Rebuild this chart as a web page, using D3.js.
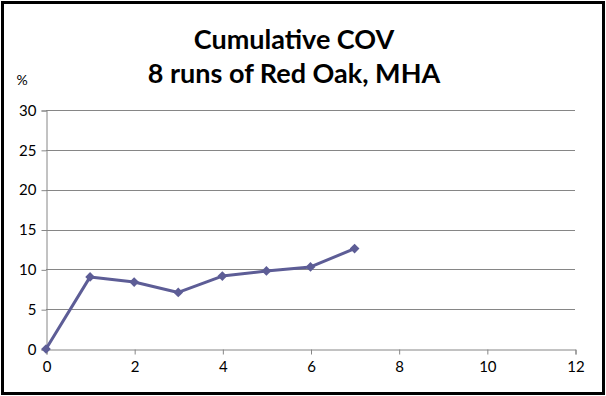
<!DOCTYPE html>
<html>
<head>
<meta charset="utf-8">
<script src="https://cdn.jsdelivr.net/npm/d3@7"></script>
<style>
  body { margin: 0; background: #fff; }
  text { font-family: Lato, "Open Sans", sans-serif; fill: #000; }
</style>
</head>
<body>
<div id="chart"></div>
<script>
(function() {
    const runs = [0, 1, 2, 3, 4, 5, 6, 7];
    const cov = [0, 9.05, 8.4, 7.1, 9.15, 9.8, 10.3, 12.6];
    const xTicks = [0, 2, 4, 6, 8, 10, 12];
    const yTicks = [0, 5, 10, 15, 20, 25, 30];
    const titleLines = ['Cumulative COV', '8 runs of Red Oak, MHA'];

    const width = 606,
          height = 396,
          margin = { top: 110, right: 31, bottom: 47, left: 46 };

    const svg = d3.select('#chart')
      .append('svg')
      .attr('width', width)
      .attr('height', height);

    svg.append('rect')
      .attr('x', 2.5).attr('y', 2.5)
      .attr('width', width - 5).attr('height', height - 5)
      .attr('fill', '#fff')
      .attr('stroke', '#000')
      .attr('stroke-width', 3);

    const x = d3.scaleLinear()
      .domain([0, 12])
      .range([margin.left, width - margin.right]);

    const y = d3.scaleLinear()
      .domain([0, 30])
      .range([height - margin.bottom, margin.top]);

    // gridlines
    svg.append('g')
      .selectAll('line')
      .data(yTicks.filter(d => d > 0))
      .enter().append('line')
        .attr('x1', x(0)).attr('x2', x(12))
        .attr('y1', d => Math.round(y(d)) + 0.5)
        .attr('y2', d => Math.round(y(d)) + 0.5)
        .attr('stroke', '#868686');

    const yAxis = svg.append('g')
      .attr('transform', `translate(${x(0) + 0.5},0.5)`)
      .call(d3.axisLeft(y).tickValues(yTicks).tickSize(5).tickPadding(5));

    const xAxis = svg.append('g')
      .attr('transform', `translate(0.5,${y(0) + 0.5})`)
      .call(d3.axisBottom(x).tickValues(xTicks).tickSize(5).tickPadding(7));

    [yAxis, xAxis].forEach(a => {
      a.select('.domain').attr('stroke', '#868686');
      a.selectAll('.tick line').attr('stroke', '#868686');
      a.selectAll('.tick text')
        .style('font-size', '15px')
        .style('font-family', 'Lato, "Open Sans", sans-serif');
    });

    const line = d3.line()
      .x((d, i) => x(runs[i]))
      .y(d => y(d));

    svg.append('path')
      .datum(cov)
      .attr('d', line)
      .attr('fill', 'none')
      .attr('stroke', '#5d5d96')
      .attr('stroke-width', 3)
      .attr('stroke-linejoin', 'round');

    svg.append('g')
      .selectAll('path')
      .data(cov)
      .enter().append('path')
        .attr('d', d3.symbol().type(d3.symbolDiamond2).size(60))
        .attr('transform', (d, i) => `translate(${x(runs[i])},${y(d)})`)
        .attr('fill', '#5d5d96');

    svg.append('g')
      .selectAll('text')
      .data(titleLines)
      .enter().append('text')
        .attr('x', 294)
        .attr('y', (d, i) => 49 + i * 34)
        .attr('text-anchor', 'middle')
        .style('font-size', '27px')
        .style('font-weight', 'bold')
        .text(d => d);

    svg.append('text')
      .attr('x', 22)
      .attr('y', 85)
      .attr('text-anchor', 'middle')
      .style('font-size', '14px')
      .text('%');
})();
</script>
</body>
</html>
